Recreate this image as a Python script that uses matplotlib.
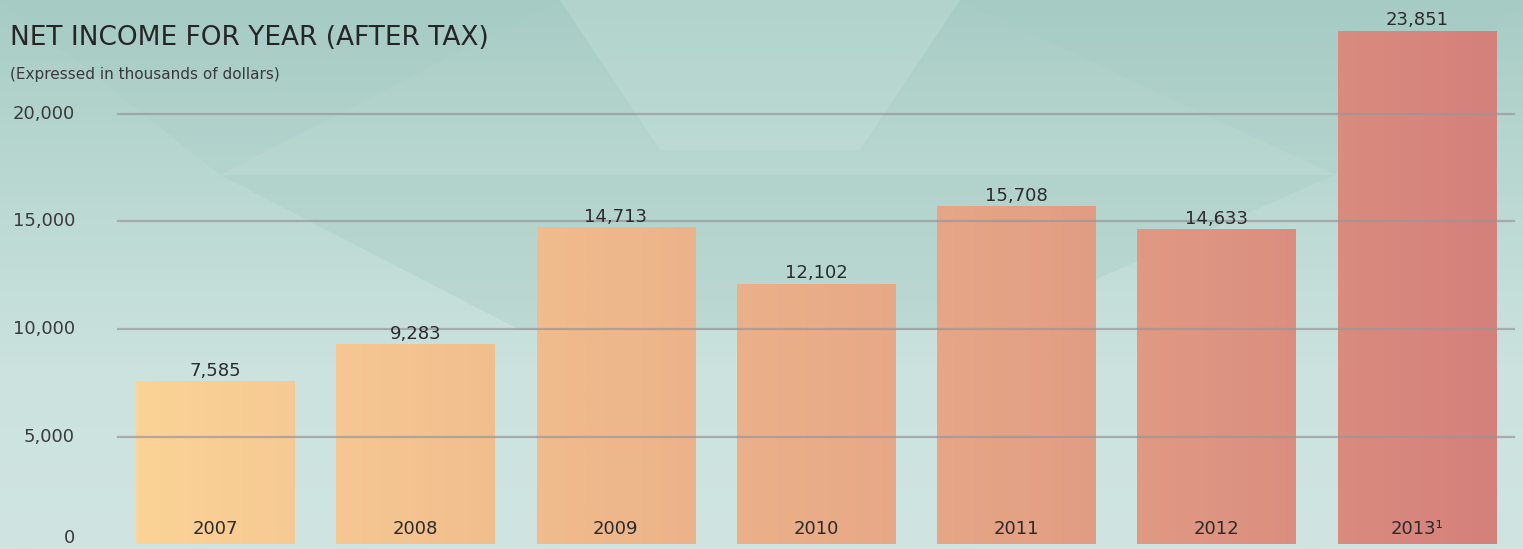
import numpy as np
import matplotlib.pyplot as plt
from matplotlib.colors import LinearSegmentedColormap
from matplotlib.patches import Polygon

years = ['2007', '2008', '2009', '2010', '2011', '2012', '2013\u00b9']
income = [7585, 9283, 14713, 12102, 15708, 14633, 23851]
value_labels = ['7,585', '9,283', '14,713', '12,102', '15,708', '14,633', '23,851']
y_ticks = [0, 5000, 10000, 15000, 20000]
y_tick_labels = ['0', '5,000', '10,000', '15,000', '20,000']

W, H = 1523, 549
fig = plt.figure(figsize=(W / 100, H / 100), dpi=100)

# background: teal gradient with a few faint facets
bg = fig.add_axes([0, 0, 1, 1], zorder=0)
bg.set_xlim(0, W)
bg.set_ylim(H, 0)
bg.axis('off')
bg_cmap = LinearSegmentedColormap.from_list('bg', ['#a7ccc5', '#bad8d2', '#cbe2de', '#d0e5e2'])
grad = np.linspace(0, 1, 256).reshape(-1, 1)
bg.imshow(grad, cmap=bg_cmap, extent=[0, W, H, 0], aspect='auto')
facets = [
    ([(220, 175), (1335, 175), (980, 330), (520, 330)], '#a2c9c1', 0.3),
    ([(560, 0), (960, 0), (860, 150), (660, 150)], '#d2e8e4', 0.25),
    ([(0, 0), (560, 0), (220, 175)], '#a3c9c2', 0.2),
    ([(960, 0), (1523, 0), (1335, 175)], '#a3c9c2', 0.2),
]
for pts, col, a in facets:
    bg.add_patch(Polygon(pts, closed=True, facecolor=col, edgecolor='none', alpha=a))

ax = fig.add_axes([117 / W, 4.5 / H, (1515 - 117) / W, 538.7 / H], zorder=1)
ax.patch.set_visible(False)
x = np.arange(len(years))
ax.set_xlim(-0.49, len(years) - 0.51)
ax.set_ylim(0, 25000)

bar_cmap = LinearSegmentedColormap.from_list('bars', ['#fbd497', '#efb98c', '#e3a085', '#d47f7b'])
bars = ax.bar(x, income, width=0.79, color='none', zorder=2)
xmin, xmax = ax.get_xlim()
span = np.linspace(0, 1, 512).reshape(1, -1)
for rect in bars:
    im = ax.imshow(span, cmap=bar_cmap, extent=[xmin, xmax, 0, 25000],
                   aspect='auto', zorder=2)
    im.set_clip_path(rect)
ax.set_xlim(xmin, xmax)
ax.set_ylim(0, 25000)

# grid lines on top of bars
for t in y_ticks[1:]:
    ax.axhline(t, color='#99959a', lw=1.6, alpha=0.7, zorder=3)

text_color = '#2b2b2b'
for xi, v, lab in zip(x, income, value_labels):
    ax.text(xi, v + 60, lab, ha='center', va='bottom', fontsize=13,
            color=text_color, zorder=4)
for xi, yr in zip(x, years):
    ax.text(xi, 280, yr, ha='center', va='bottom', fontsize=13,
            color=text_color, zorder=4)

# y labels, the zero label sits a little above the baseline
ax.set_xticks([])
ax.set_yticks([])
for t, lab in zip(y_ticks, y_tick_labels):
    yy = t if t > 0 else 300
    ax.text(-0.7, yy, lab, ha='right', va='center', fontsize=13,
            color='#3a3a3a', zorder=4)
for s in ax.spines.values():
    s.set_visible(False)

fig.text(10 / W, 1 - 38 / H, 'NET INCOME FOR YEAR (AFTER TAX)', fontsize=19,
         color='#262626', va='center', ha='left')
fig.text(10 / W, 1 - 74 / H, '(Expressed in thousands of dollars)', fontsize=11,
         color='#3a3a3a', va='center', ha='left')

fig.savefig('out.png', dpi=100)
